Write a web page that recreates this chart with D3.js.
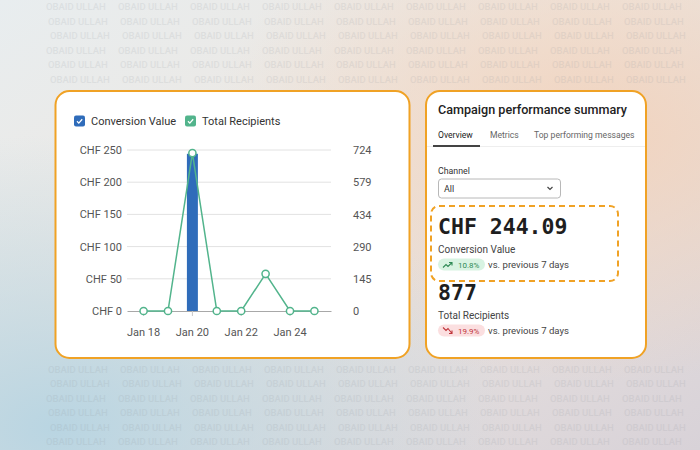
<!DOCTYPE html>
<html>
<head>
<meta charset="utf-8">
<script src="https://cdn.jsdelivr.net/npm/d3@7"></script>
<style>
  body { margin: 0; background: #fff; }
  svg { display: block; }
</style>
</head>
<body>
<svg id="chart" width="700" height="450"></svg>
<script>
// data
var days = ["Jan 18", "Jan 19", "Jan 20", "Jan 21", "Jan 22", "Jan 23", "Jan 24", "Jan 25"];
var conversionValue = [0, 0, 244.09, 0, 0, 0, 0, 0];
var totalRecipients = [0, 0, 710, 0, 0, 167, 0, 0];
var leftTicks = [0, 50, 100, 150, 200, 250];
var rightTicks = [0, 145, 290, 434, 579, 724];
var xLabels = ["Jan 18", "Jan 20", "Jan 22", "Jan 24"];
var legendItems = ["Conversion Value", "Total Recipients"];
var tabs = ["Overview", "Metrics", "Top performing messages"];
var summary = [
  { value: "CHF 244.09", label: "Conversion Value", change: "10.8%", up: true },
  { value: "877", label: "Total Recipients", change: "19.9%", up: false }
];

var font = "Roboto, 'Noto Sans', sans-serif";
var blue = "#2f6cba", green = "#52b48c", orange = "#f0a225";

var svg = d3.select("#chart");
var defs = svg.append("defs");

// background
var bg = defs.append("linearGradient").attr("id", "bg")
  .attr("x1", 0).attr("y1", 0).attr("x2", 1).attr("y2", 1);
bg.append("stop").attr("offset", "0%").attr("stop-color", "#e8edef");
bg.append("stop").attr("offset", "45%").attr("stop-color", "#ede7e1");
bg.append("stop").attr("offset", "100%").attr("stop-color", "#d8d2d8");
svg.append("rect").attr("width", 700).attr("height", 450).attr("fill", "url(#bg)");

var warm = defs.append("radialGradient").attr("id", "warm")
  .attr("cx", 0.85).attr("cy", 0.3).attr("r", 0.55);
warm.append("stop").attr("offset", "0%").attr("stop-color", "#f2d3bd").attr("stop-opacity", 0.95);
warm.append("stop").attr("offset", "100%").attr("stop-color", "#f2d3bd").attr("stop-opacity", 0);
svg.append("rect").attr("width", 700).attr("height", 450).attr("fill", "url(#warm)");

var cool = defs.append("radialGradient").attr("id", "cool")
  .attr("cx", 0.08).attr("cy", 0.95).attr("r", 0.65);
cool.append("stop").attr("offset", "0%").attr("stop-color", "#b9d5e2").attr("stop-opacity", 1);
cool.append("stop").attr("offset", "100%").attr("stop-color", "#b9d5e2").attr("stop-opacity", 0);
svg.append("rect").attr("width", 700).attr("height", 450).attr("fill", "url(#cool)");

// watermark (skipped where the cards cover it)
var cards = [[55.5, 91, 354, 267], [426, 91, 220, 267]];
function underCard(px, py) {
  return cards.some(function(b) {
    return px + 64 > b[0] - 2 && px < b[0] + b[2] + 2 && py > b[1] - 2 && py - 9 < b[1] + b[3] + 2;
  });
}
var wm = svg.append("g").attr("font-family", font).attr("font-size", 9.5)
  .attr("font-weight", 500).attr("fill", "#8e949b").attr("opacity", 0.14);
for (var r = 0; r < 31; r++) {
  for (var c = 0; c < 9; c++) {
    var wx = c * 72 + 46 + (r % 3) * 2, wy = r * 14.5 + 10;
    if (wy > 448 || underCard(wx, wy)) continue;
    wm.append("text").attr("x", wx).attr("y", wy).text("OBAID ULLAH");
  }
}

// cards
svg.append("rect").attr("x", 55.5).attr("y", 91).attr("width", 354).attr("height", 267)
  .attr("rx", 14).attr("fill", "#fff").attr("stroke", orange).attr("stroke-width", 2);
svg.append("rect").attr("x", 426).attr("y", 91).attr("width", 220).attr("height", 267)
  .attr("rx", 14).attr("fill", "#fff").attr("stroke", orange).attr("stroke-width", 2);

// chart scales
var x = d3.scaleBand().domain(days).range([127, 331]).paddingInner(0).paddingOuter(0.18);
var yL = d3.scaleLinear().domain([0, 250]).range([311, 150]);
var yR = d3.scaleLinear().domain([0, 724]).range([311, 150]);
var cx = function(d) { return x(d) + x.bandwidth() / 2; };

var chart = svg.append("g").attr("font-family", font);

// grid
chart.append("g").selectAll("line").data(leftTicks.slice(1)).join("line")
  .attr("x1", 127).attr("x2", 331)
  .attr("y1", d => yL(d)).attr("y2", d => yL(d))
  .attr("stroke", "#e2e2e2").attr("stroke-width", 1);

// left axis
var gl = chart.append("g").attr("transform", "translate(127,0)")
  .call(d3.axisLeft(yL).tickValues(leftTicks).tickSize(0).tickPadding(5)
    .tickFormat(d => "CHF " + d));
gl.select(".domain").remove();
gl.selectAll("text").attr("font-size", 11).attr("fill", "#555").attr("font-family", font);

// right axis
var gr = chart.append("g").attr("transform", "translate(331,0)")
  .call(d3.axisRight(yR).tickValues(rightTicks).tickSize(0).tickPadding(22));
gr.select(".domain").remove();
gr.selectAll("text").attr("font-size", 11).attr("fill", "#555").attr("font-family", font);

// bottom axis
var gb = chart.append("g").attr("transform", "translate(0,311)")
  .call(d3.axisBottom(x).tickValues(xLabels).tickSize(5).tickPadding(12).tickSizeOuter(0));
gb.select(".domain").attr("stroke", "#a8a8a8");
gb.selectAll(".tick line").attr("stroke", "#c8c8c8");
gb.selectAll("text").attr("font-size", 11).attr("fill", "#555").attr("font-family", font);

// bars
var bw = x.bandwidth() * 0.45;
chart.append("g").selectAll("rect").data(days).join("rect")
  .attr("x", d => cx(d) - bw / 2)
  .attr("y", (d, i) => yL(conversionValue[i]))
  .attr("width", bw)
  .attr("height", (d, i) => 311 - yL(conversionValue[i]))
  .attr("fill", blue);

// line
var line = d3.line().x(d => cx(d)).y((d, i) => yR(totalRecipients[i]));
chart.append("path").datum(days).attr("d", line)
  .attr("fill", "none").attr("stroke", green).attr("stroke-width", 1.5);
chart.append("g").selectAll("circle").data(days).join("circle")
  .attr("cx", d => cx(d)).attr("cy", (d, i) => yR(totalRecipients[i]))
  .attr("r", 3.6).attr("fill", "#fff").attr("stroke", green).attr("stroke-width", 1.5);

// legend
var legX = [74, 185];
var legColors = [blue, green];
var leg = chart.append("g").selectAll("g").data(legendItems).join("g")
  .attr("transform", (d, i) => "translate(" + legX[i] + ",115.5)");
leg.append("rect").attr("width", 11).attr("height", 11).attr("rx", 2)
  .attr("fill", (d, i) => legColors[i]);
leg.append("path").attr("d", "M3,5.8 L4.8,7.6 L8.2,3.8")
  .attr("fill", "none").attr("stroke", "#fff").attr("stroke-width", 1.3);
leg.append("text").attr("x", 17).attr("y", 9.8).attr("font-size", 11)
  .attr("fill", "#333").text(d => d);

// summary card
var card = svg.append("g").attr("font-family", font);
card.append("text").attr("x", 438).attr("y", 113.5).attr("font-size", 12.6)
  .attr("font-weight", 500).attr("fill", "#222").text("Campaign performance summary");

var tabX = [438, 490, 534];
card.append("line").attr("x1", 427).attr("x2", 645).attr("y1", 146.5).attr("y2", 146.5)
  .attr("stroke", "#eeeeee");
card.selectAll(".tab").data(tabs).join("text").attr("class", "tab")
  .attr("x", (d, i) => tabX[i]).attr("y", 137.5).attr("font-size", 8.6)
  .attr("fill", (d, i) => i === 0 ? "#222" : "#666").text(d => d);
card.append("rect").attr("x", 433).attr("y", 145).attr("width", 47).attr("height", 2)
  .attr("fill", "#444");

card.append("text").attr("x", 438).attr("y", 173.5).attr("font-size", 8.8)
  .attr("fill", "#333").text("Channel");
card.append("rect").attr("x", 438.5).attr("y", 179).attr("width", 122).attr("height", 19)
  .attr("rx", 3).attr("fill", "#fff").attr("stroke", "#b8b8b8");
card.append("text").attr("x", 444).attr("y", 191.5).attr("font-size", 9)
  .attr("fill", "#333").text("All");
card.append("path").attr("d", "M547.5,187 L550,189.5 L552.5,187")
  .attr("fill", "none").attr("stroke", "#444").attr("stroke-width", 1.2);

card.append("rect").attr("x", 431).attr("y", 206).attr("width", 187).attr("height", 75)
  .attr("rx", 8).attr("fill", "none").attr("stroke", orange).attr("stroke-width", 2)
  .attr("stroke-dasharray", "6,4");

var blockY = [233.5, 299.5];
var blocks = card.selectAll(".blk").data(summary).join("g").attr("class", "blk")
  .attr("transform", (d, i) => "translate(438," + blockY[i] + ")");
blocks.append("text").attr("font-family", "'DejaVu Sans Mono', 'Liberation Mono', monospace")
  .attr("font-weight", 700).attr("font-size", 21.5).attr("fill", "#1e1e1e")
  .text(d => d.value);
blocks.append("text").attr("y", 19).attr("font-size", 10).attr("fill", "#444")
  .text(d => d.label);
blocks.append("rect").attr("y", 25).attr("width", 47).attr("height", 12).attr("rx", 6)
  .attr("fill", d => d.up ? "#d8f3e2" : "#fbdfe0");
blocks.append("path")
  .attr("d", d => d.up ? "M5,34 L8,31 L10,33 L14,29 M11,29 L14,29 L14,32"
                      : "M5,28 L8,31 L10,29 L14,34 M11,34 L14,34 L14,31")
  .attr("fill", "none").attr("stroke", d => d.up ? "#2f8a55" : "#c0363c").attr("stroke-width", 1.1);
blocks.append("text").attr("x", 20).attr("y", 34.3).attr("font-size", 8)
  .attr("fill", d => d.up ? "#2f8a55" : "#c0363c").text(d => d.change);
blocks.append("text").attr("x", 50).attr("y", 34.8).attr("font-size", 9.6)
  .attr("fill", "#444").text("vs. previous 7 days");
</script>
</body>
</html>
